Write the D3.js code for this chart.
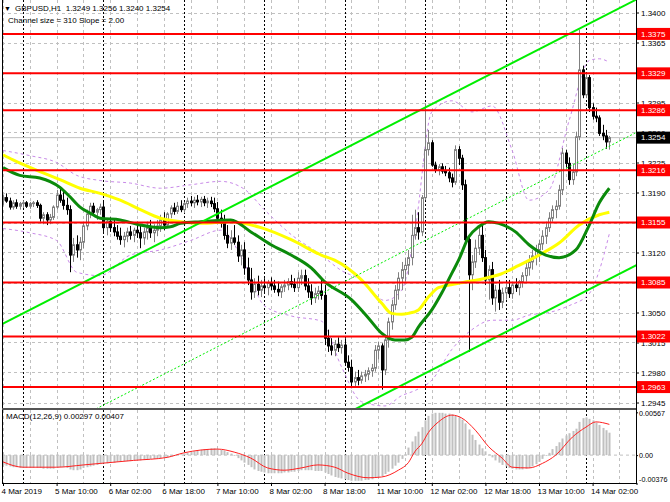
<!DOCTYPE html>
<html><head><meta charset="utf-8">
<script src="https://cdn.jsdelivr.net/npm/d3@7"></script>
<style>
body{margin:0;background:#fff}
svg{display:block}
text{font-family:"Liberation Sans",Arial,sans-serif}
</style>
</head><body><svg id="c" width="670" height="502"></svg>
<script>
// ---------- DATA ----------
const opens=[1.3181,1.3184,1.3180,1.3173,1.3178,1.3174,1.3177,1.3178,1.3174,1.3177,
1.3178,1.3175,1.3160,1.3164,1.3158,1.3161,1.3173,1.3187,1.3181,1.3175,
1.3170,1.3117,1.3129,1.3123,1.3132,1.3151,1.3165,1.3174,1.3167,1.3170,
1.3173,1.3149,1.3156,1.3149,1.3144,1.3139,1.3135,1.3139,1.3144,1.3140,
1.3146,1.3143,1.3137,1.3144,1.3149,1.3143,1.3146,1.3151,1.3158,1.3152,
1.3165,1.3172,1.3168,1.3174,1.3170,1.3177,1.3180,1.3178,1.3181,1.3179,
1.3182,1.3178,1.3180,1.3177,1.3171,1.3160,1.3154,1.3140,1.3131,1.3137,
1.3132,1.3116,1.3123,1.3102,1.3088,1.3074,1.3083,1.3076,1.3081,1.3079,
1.3084,1.3081,1.3077,1.3074,1.3080,1.3082,1.3086,1.3083,1.3079,1.3090,
1.3093,1.3081,1.3074,1.3067,1.3072,1.3075,1.3070,1.3020,1.3011,1.3006,
1.3013,1.3009,1.3012,1.2992,1.2986,1.2969,1.2974,1.2971,1.2976,1.2978,
1.2982,1.2985,1.3006,1.3011,1.2983,1.3018,1.3039,1.3059,1.3076,1.3090,
1.3100,1.3105,1.3114,1.3140,1.3149,1.3144,1.3184,1.3240,1.3248,1.3222,
1.3216,1.3220,1.3215,1.3213,1.3207,1.3202,1.3240,1.3230,1.3199,1.3135,
1.3094,1.3109,1.3125,1.3140,1.3114,1.3088,1.3100,1.3067,1.3076,1.3062,
1.3073,1.3079,1.3072,1.3082,1.3079,1.3086,1.3093,1.3102,1.3109,1.3116,
1.3123,1.3130,1.3139,1.3149,1.3160,1.3170,1.3174,1.3193,1.3236,1.3224,
1.3205,1.3214,1.3255,1.3333,1.3304,1.3324,1.3289,1.3279,1.3277,1.3259,
1.3256,1.3249];
const highs=[1.3187,1.3189,1.3184,1.3181,1.3182,1.3179,1.3181,1.3180,1.3179,1.3180,
1.3181,1.3177,1.3167,1.3167,1.3165,1.3175,1.3193,1.3196,1.3191,1.3184,
1.3175,1.3137,1.3140,1.3138,1.3156,1.3170,1.3178,1.3178,1.3172,1.3177,
1.3179,1.3160,1.3161,1.3158,1.3152,1.3149,1.3144,1.3149,1.3151,1.3149,
1.3156,1.3152,1.3149,1.3156,1.3158,1.3153,1.3158,1.3164,1.3167,1.3167,
1.3175,1.3178,1.3179,1.3181,1.3179,1.3184,1.3186,1.3185,1.3187,1.3185,
1.3186,1.3184,1.3185,1.3184,1.3179,1.3170,1.3164,1.3152,1.3146,1.3152,
1.3140,1.3129,1.3132,1.3114,1.3102,1.3090,1.3093,1.3088,1.3090,1.3088,
1.3091,1.3088,1.3086,1.3083,1.3088,1.3090,1.3094,1.3090,1.3097,1.3100,
1.3100,1.3090,1.3083,1.3079,1.3081,1.3088,1.3082,1.3030,1.3020,1.3018,
1.3021,1.3018,1.3020,1.3000,1.2995,1.2981,1.2983,1.2981,1.2983,1.2986,
1.2990,1.3012,1.3016,1.3014,1.3024,1.3044,1.3065,1.3082,1.3097,1.3109,
1.3114,1.3123,1.3164,1.3170,1.3167,1.3187,1.3294,1.3263,1.3251,1.3226,
1.3223,1.3224,1.3221,1.3219,1.3212,1.3245,1.3244,1.3234,1.3205,1.3140,
1.3117,1.3135,1.3149,1.3152,1.3123,1.3105,1.3109,1.3082,1.3088,1.3079,
1.3084,1.3088,1.3086,1.3090,1.3088,1.3097,1.3109,1.3117,1.3123,1.3129,
1.3135,1.3146,1.3156,1.3167,1.3175,1.3181,1.3199,1.3242,1.3240,1.3231,
1.3222,1.3261,1.3380,1.3338,1.3329,1.3327,1.3294,1.3289,1.3280,1.3269,
1.3263,1.3256];
const lows=[1.3175,1.3178,1.3170,1.3170,1.3171,1.3170,1.3172,1.3172,1.3171,1.3173,
1.3172,1.3156,1.3153,1.3152,1.3153,1.3158,1.3170,1.3178,1.3170,1.3164,
1.3097,1.3109,1.3114,1.3111,1.3125,1.3146,1.3160,1.3164,1.3158,1.3164,
1.3144,1.3140,1.3144,1.3139,1.3135,1.3129,1.3126,1.3132,1.3135,1.3132,
1.3137,1.3125,1.3129,1.3135,1.3137,1.3132,1.3139,1.3144,1.3146,1.3149,
1.3160,1.3164,1.3165,1.3167,1.3166,1.3172,1.3174,1.3172,1.3175,1.3173,
1.3174,1.3172,1.3173,1.3167,1.3156,1.3149,1.3135,1.3125,1.3123,1.3129,
1.3109,1.3105,1.3094,1.3082,1.3065,1.3067,1.3070,1.3068,1.3074,1.3070,
1.3076,1.3073,1.3069,1.3067,1.3074,1.3076,1.3079,1.3074,1.3074,1.3082,
1.3076,1.3067,1.3059,1.3061,1.3065,1.3065,1.3012,1.3004,1.3000,1.2999,
1.3004,1.3002,1.2988,1.2981,1.2962,1.2963,1.2965,1.2967,1.2969,1.2971,
1.2975,1.2981,1.2995,1.2960,1.2977,1.3009,1.3030,1.3053,1.3065,1.3076,
1.3086,1.3094,1.3105,1.3135,1.3135,1.3139,1.3181,1.3233,1.3220,1.3213,
1.3210,1.3212,1.3209,1.3202,1.3196,1.3199,1.3222,1.3193,1.3129,1.3004,
1.3076,1.3102,1.3117,1.3109,1.3082,1.3065,1.3059,1.3051,1.3053,1.3055,
1.3065,1.3067,1.3066,1.3074,1.3070,1.3079,1.3086,1.3093,1.3100,1.3105,
1.3109,1.3123,1.3130,1.3144,1.3156,1.3160,1.3170,1.3187,1.3219,1.3199,
1.3199,1.3209,1.3251,1.3300,1.3300,1.3284,1.3275,1.3272,1.3256,1.3251,
1.3241,1.3240];
const closes=[1.3184,1.3180,1.3173,1.3178,1.3174,1.3177,1.3178,1.3174,1.3177,1.3178,
1.3175,1.3160,1.3164,1.3158,1.3161,1.3173,1.3187,1.3181,1.3175,1.3170,
1.3117,1.3129,1.3123,1.3132,1.3151,1.3165,1.3174,1.3167,1.3170,1.3173,
1.3149,1.3156,1.3149,1.3144,1.3139,1.3135,1.3139,1.3144,1.3140,1.3146,
1.3143,1.3137,1.3144,1.3149,1.3143,1.3146,1.3151,1.3158,1.3152,1.3165,
1.3172,1.3168,1.3174,1.3170,1.3177,1.3180,1.3178,1.3181,1.3179,1.3182,
1.3178,1.3180,1.3177,1.3171,1.3160,1.3154,1.3140,1.3131,1.3137,1.3132,
1.3116,1.3123,1.3102,1.3088,1.3074,1.3083,1.3076,1.3081,1.3079,1.3084,
1.3081,1.3077,1.3074,1.3080,1.3082,1.3086,1.3083,1.3079,1.3090,1.3093,
1.3081,1.3074,1.3067,1.3072,1.3075,1.3070,1.3020,1.3011,1.3006,1.3013,
1.3009,1.3012,1.2992,1.2986,1.2969,1.2974,1.2971,1.2976,1.2978,1.2982,
1.2985,1.3006,1.3011,1.2983,1.3018,1.3039,1.3059,1.3076,1.3090,1.3100,
1.3105,1.3114,1.3140,1.3149,1.3144,1.3184,1.3240,1.3248,1.3222,1.3216,
1.3220,1.3215,1.3213,1.3207,1.3202,1.3240,1.3230,1.3199,1.3135,1.3094,
1.3109,1.3125,1.3140,1.3114,1.3088,1.3100,1.3067,1.3076,1.3062,1.3073,
1.3079,1.3072,1.3082,1.3079,1.3086,1.3093,1.3102,1.3109,1.3116,1.3123,
1.3130,1.3139,1.3149,1.3160,1.3170,1.3174,1.3193,1.3236,1.3224,1.3205,
1.3214,1.3255,1.3333,1.3304,1.3324,1.3289,1.3279,1.3277,1.3259,1.3256,
1.3249,1.3254];

// fast MA (dark green) sampled: bar index / value
const maFastBars=[0,5,11,17,20,23,26,29,35,41,47,50,53,59,68,74,80,86,92,96,104,109,113,117,120,122,124,128,131,134,136,139,142,145,148,153,157,162,166,171,175,178,181];
const maFastVals=[1.3219,1.3210,1.3207,1.3196,1.3185,1.3173,1.3166,1.3160,1.3158,1.3152,1.3149,1.3150,1.3154,1.3156,1.3158,1.3144,1.3129,1.3117,1.3102,1.3086,1.3065,1.3044,1.3026,1.3018,1.3018,1.3021,1.3033,1.3053,1.3073,1.3096,1.3111,1.3138,1.3150,1.3156,1.3154,1.3144,1.3129,1.3117,1.3114,1.3123,1.3152,1.3178,1.3195];
// slow MA (yellow)
const maSlowBars=[0,3,12,17,23,29,35,41,47,53,59,68,77,86,95,99,107,113,116,119,121,124,127,130,136,144,148,154,160,166,172,178,181];
const maSlowVals=[1.3234,1.3228,1.3213,1.3205,1.3195,1.3189,1.3181,1.3170,1.3160,1.3156,1.3154,1.3156,1.3149,1.3135,1.3117,1.3111,1.3088,1.3061,1.3049,1.3048,1.3049,1.3053,1.3068,1.3079,1.3084,1.3090,1.3094,1.3105,1.3117,1.3131,1.3152,1.3164,1.3167];
// envelope bands (violet dashed)
const bandBars=[0,8,16,22,29,38,47,56,65,72,78,86,95,101,107,114,119,123,128,134,140,146,152,157,163,169,175,178,181];
const bandUpper=[1.3239,1.3233,1.3225,1.3210,1.3204,1.3201,1.3195,1.3199,1.3203,1.3194,1.3170,1.3141,1.3117,1.3099,1.3088,1.3064,1.3076,1.3146,1.3284,1.3297,1.3284,1.3291,1.3239,1.3181,1.3193,1.3274,1.3344,1.3346,1.3342];
const bandLower=[1.3148,1.3143,1.3134,1.3097,1.3093,1.3117,1.3123,1.3134,1.3146,1.3108,1.3058,1.3046,1.3040,1.2987,1.2946,1.2941,1.2953,1.2959,1.2971,1.3007,1.3030,1.3041,1.3041,1.3047,1.3050,1.3058,1.3072,1.3099,1.3142];

// MACD histogram (per bar) and signal (sampled)
const macdMain=[-0.0013,-0.0014,-0.0015,-0.0016,-0.0016,-0.0017,-0.0017,-0.0017,-0.0017,-0.0017,
-0.0017,-0.0017,-0.0018,-0.0018,-0.0018,-0.0018,-0.0017,-0.0016,-0.0016,-0.0017,
-0.0019,-0.0020,-0.0020,-0.0019,-0.0017,-0.0016,-0.0015,-0.0014,-0.0013,-0.0012,
-0.0011,-0.0011,-0.0010,-0.0010,-0.0009,-0.0009,-0.0008,-0.0008,-0.0008,-0.0007,
-0.0007,-0.0007,-0.0006,-0.0006,-0.0005,-0.0005,-0.0004,-0.0004,-0.0003,-0.0003,
-0.0002,-0.0001,0.0000,0.0001,0.0002,0.0003,0.0004,0.0005,0.0006,0.0007,
0.0008,0.0008,0.0009,0.0009,0.0008,0.0007,0.0006,0.0004,0.0002,-0.0001,
-0.0004,-0.0007,-0.0010,-0.0013,-0.0016,-0.0019,-0.0021,-0.0022,-0.0023,-0.0024,
-0.0024,-0.0024,-0.0024,-0.0024,-0.0023,-0.0023,-0.0022,-0.0022,-0.0021,-0.0020,
-0.0020,-0.0020,-0.0020,-0.0021,-0.0021,-0.0021,-0.0023,-0.0025,-0.0027,-0.0029,
-0.0030,-0.0031,-0.0032,-0.0033,-0.0034,-0.0034,-0.0034,-0.0034,-0.0033,-0.0033,
-0.0032,-0.0030,-0.0029,-0.0028,-0.0025,-0.0022,-0.0018,-0.0014,-0.0010,-0.0005,
0.0001,0.0010,0.0018,0.0025,0.0031,0.0037,0.0046,0.0052,0.0055,0.0056,
0.0056,0.0056,0.0055,0.0055,0.0054,0.0052,0.0050,0.0047,0.0042,0.0034,
0.0027,0.0020,0.0014,0.0009,0.0005,0.0001,-0.0003,-0.0007,-0.0010,-0.0013,
-0.0015,-0.0017,-0.0018,-0.0019,-0.0019,-0.0019,-0.0018,-0.0017,-0.0015,-0.0012,
-0.0009,-0.0005,-0.0001,0.0003,0.0008,0.0012,0.0017,0.0022,0.0026,0.0029,
0.0032,0.0035,0.0044,0.0049,0.0050,0.0048,0.0046,0.0043,0.0040,0.0036,
0.0033,0.00297];
const signalBars=[0,6,16,24,29,39,49,54,64,69,74,79,84,89,94,99,103,109,113,118,121,123,125,127,130,134,137,141,145,149,152,157,161,165,170,174,177,181];
const signalVals=[-0.0009,-0.0016,-0.0016,-0.0013,-0.0011,-0.0007,-0.0003,0.0003,0.0008,0.0004,-0.0004,-0.0017,-0.0020,-0.0017,-0.0013,-0.0016,-0.0024,-0.0030,-0.0029,-0.0020,-0.0010,0.0005,0.0015,0.0030,0.0044,0.0053,0.0049,0.0033,0.0011,-0.0004,-0.0016,-0.0017,-0.0011,0.0000,0.0024,0.0037,0.0044,0.00407];

// levels, channel, ticks
const levels=[1.3375,1.3329,1.3286,1.3216,1.3155,1.3085,1.3022,1.2963];
const channelBars=[-2,192];
const channelUpper=[1.3033,1.3421];
const channelSize=0.0310;
const priceTicks=[1.3400,1.3365,1.3330,1.3295,1.3260,1.3225,1.3190,1.3155,1.3120,1.3085,1.3050,1.3015,1.2980,1.2945];
const hiddenTickLabels=[1.3330];
const macdTicks=[0.00567,0,-0.00376];
const macdTickLabels=["0.00567","0.00","-0.00376"];
const timeTickBars=[0,16,32,48,64,80,96,112,128,144,160,176];
const timeTickLabels=["4 Mar 2019","5 Mar 10:00","6 Mar 02:00","6 Mar 18:00","7 Mar 10:00","8 Mar 02:00","8 Mar 18:00","11 Mar 10:00","12 Mar 02:00","12 Mar 18:00","13 Mar 10:00","14 Mar 02:00"];
const gridBars=d3.range(0,190,8);
const daySepBars=[6,30,54,78,102,126,150,174];
const lastPrice=1.3254;
const headerText="GBPUSD,H1  1.3249 1.3256 1.3240 1.3254";
const channelText="Channel size = 310 Slope = 2.00";
const macdText="MACD(12,26,9) 0.00297 0.00407";

// ---------- LAYOUT ----------
const W=670,H=502,L=2,R=636,mT=0,mB=408,dT=410,dB=483;
const svg=d3.select("#c");
const x=d3.scaleLinear().domain([0,176]).range([3,592.6]);
const y=d3.scaleLinear().domain([1.2945,1.3400]).range([402.5,12.5]);
const ym=d3.scaleLinear().domain([-0.00376,0.00567]).range([483.5,412.3]);

const defs=svg.append("defs");
defs.append("clipPath").attr("id","cm").append("rect").attr("x",L).attr("y",mT).attr("width",R-L).attr("height",mB-mT);
defs.append("clipPath").attr("id","cd").append("rect").attr("x",L).attr("y",dT).attr("width",R-L).attr("height",dB-dT);

const gM=svg.append("g").attr("clip-path","url(#cm)");
const gD=svg.append("g").attr("clip-path","url(#cd)");

// grid
gM.selectAll(".hg").data(priceTicks).join("line").attr("x1",L).attr("x2",R)
 .attr("y1",d=>Math.round(y(d))+0.5).attr("y2",d=>Math.round(y(d))+0.5)
 .attr("stroke","#c0c0c0").attr("stroke-dasharray","3,3");
[gM,gD].forEach((g,k)=>{
 const t=k?dT:mT,b=k?dB:mB;
 g.selectAll(".vg").data(gridBars).join("line")
  .attr("x1",d=>Math.round(x(d))+0.5).attr("x2",d=>Math.round(x(d))+0.5).attr("y1",t).attr("y2",b)
  .attr("stroke","#c0c0c0").attr("stroke-dasharray","3,3");
 g.selectAll(".ds").data(daySepBars).join("line")
  .attr("x1",d=>Math.round(x(d))+0.5).attr("x2",d=>Math.round(x(d))+0.5).attr("y1",t).attr("y2",b)
  .attr("stroke","#000").attr("stroke-dasharray","2,2");
});

// current price line
gM.append("line").attr("x1",L).attr("x2",R).attr("y1",y(lastPrice)).attr("y2",y(lastPrice))
 .attr("stroke","#c0c0c0").attr("stroke-width",1);

// bands
const bandLine=(vals)=>d3.line().x((d,i)=>x(bandBars[i])).y(d=>y(d)).curve(d3.curveMonotoneX)(vals);
gM.append("path").attr("d",bandLine(bandUpper)).attr("fill","none").attr("stroke","#c88ae8").attr("stroke-dasharray","3,3");
gM.append("path").attr("d",bandLine(bandLower)).attr("fill","none").attr("stroke","#c88ae8").attr("stroke-dasharray","3,3");

// candles
const bars=d3.range(opens.length);
const cg=gM.append("g");
bars.forEach(i=>{
 const bull=closes[i]>=opens[i];
 const cx=Math.round(x(i))+0.5;
 const col=bull?"#808080":"#000";
 cg.append("line").attr("x1",cx).attr("x2",cx).attr("y1",y(highs[i])).attr("y2",y(lows[i])).attr("stroke",col);
 const top=y(Math.max(opens[i],closes[i])),bot=y(Math.min(opens[i],closes[i]));
 cg.append("rect").attr("x",cx-1).attr("width",2).attr("y",top).attr("height",Math.max(0.5,bot-top))
  .attr("fill",bull?"#fff":"#000").attr("stroke",col).attr("stroke-width",1);
});

// moving averages
const maLine=(bs,vs)=>d3.line().x((d,i)=>x(bs[i])).y(d=>y(d)).curve(d3.curveMonotoneX)(vs);
gM.append("path").attr("d",maLine(maSlowBars,maSlowVals)).attr("fill","none").attr("stroke","#ffff00").attr("stroke-width",3);
gM.append("path").attr("d",maLine(maFastBars,maFastVals)).attr("fill","none").attr("stroke","#0b8a0b").attr("stroke-width",3);

// channel
const chLine=(off)=>d3.line().x((d,i)=>x(channelBars[i])).y(d=>y(d-off))(channelUpper);
gM.append("path").attr("d",chLine(0)).attr("stroke","#00ee00").attr("stroke-width",2).attr("fill","none");
gM.append("path").attr("d",chLine(channelSize)).attr("stroke","#00ee00").attr("stroke-width",2).attr("fill","none");
gM.append("path").attr("d",chLine(channelSize/2)).attr("stroke","#00ee00").attr("stroke-width",1).attr("stroke-dasharray","2,2").attr("fill","none");

// levels
gM.selectAll(".lv").data(levels).join("line").attr("x1",L).attr("x2",R)
 .attr("y1",d=>y(d)).attr("y2",d=>y(d)).attr("stroke","#ff0000").attr("stroke-width",2);

// MACD
gD.append("line").attr("x1",L).attr("x2",R).attr("y1",ym(0)).attr("y2",ym(0)).attr("stroke","#c0c0c0").attr("stroke-dasharray","3,3");
gD.selectAll(".hb").data(macdMain).join("rect")
 .attr("x",(d,i)=>Math.round(x(i))-0.5).attr("width",2)
 .attr("y",d=>Math.min(ym(d),ym(0))).attr("height",d=>Math.abs(ym(d)-ym(0)))
 .attr("fill","#c0c0c0");
gD.append("path").attr("d",d3.line().x((d,i)=>x(signalBars[i])).y(d=>ym(d)).curve(d3.curveMonotoneX)(signalVals))
 .attr("fill","none").attr("stroke","#ff2020").attr("stroke-width",1);

// frames
svg.append("line").attr("x1",L+0.5).attr("x2",L+0.5).attr("y1",0).attr("y2",dB).attr("stroke","#000");
svg.append("line").attr("x1",R+0.5).attr("x2",R+0.5).attr("y1",0).attr("y2",dB).attr("stroke","#000");
svg.append("line").attr("x1",L).attr("x2",R).attr("y1",mB+0.5).attr("y2",mB+0.5).attr("stroke","#555");
svg.append("line").attr("x1",L).attr("x2",R).attr("y1",dT-0.5).attr("y2",dT-0.5).attr("stroke","#555");
svg.append("line").attr("x1",L).attr("x2",R+1).attr("y1",dB+0.5).attr("y2",dB+0.5).attr("stroke","#000");

// axes
const fs="8px";
const ay=svg.append("g").attr("transform",`translate(${R},0)`)
 .call(d3.axisRight(y).tickValues(priceTicks)
   .tickFormat(d=>hiddenTickLabels.includes(d)?"":d3.format(".4f")(d)).tickSize(3).tickPadding(2));
ay.select(".domain").remove();
ay.selectAll("text").attr("font-size",fs).attr("fill","#000").attr("font-family","Liberation Sans, Arial, sans-serif");
const ad=svg.append("g").attr("transform",`translate(${R},0)`)
 .call(d3.axisRight(ym).tickValues(macdTicks).tickFormat((d,i)=>macdTickLabels[i]).tickSize(2).tickPadding(1));
ad.select(".domain").remove();
ad.selectAll("text").attr("font-size","7.2px").attr("fill","#000").attr("font-family","Liberation Sans, Arial, sans-serif");
ad.selectAll(".tick").filter((d,i)=>i===2).select("text").attr("dy","-0.3em");
ad.selectAll(".tick").filter((d,i)=>i===0).select("text").attr("dy","0.45em");
const ax=svg.append("g").attr("transform",`translate(0,${dB})`)
 .call(d3.axisBottom(x).tickValues(timeTickBars).tickFormat((d,i)=>timeTickLabels[i]).tickSize(3).tickPadding(2));
ax.select(".domain").remove();
ax.selectAll("text").attr("font-size",fs).attr("fill","#000").attr("text-anchor","start").attr("dx","-2")
 .attr("font-family","Liberation Sans, Arial, sans-serif");

// level labels
const lbl=svg.append("g");
levels.forEach(v=>{
 lbl.append("rect").attr("x",R+1).attr("width",W-R-1).attr("y",y(v)-6).attr("height",12).attr("fill","#ff0000");
 lbl.append("text").attr("x",R+5).attr("y",y(v)).attr("dy","0.35em").attr("font-size",fs).attr("fill","#fff").text(d3.format(".4f")(v));
});
lbl.append("rect").attr("x",R+1).attr("width",W-R-1).attr("y",y(lastPrice)-6).attr("height",12).attr("fill","#000");
lbl.append("text").attr("x",R+5).attr("y",y(lastPrice)).attr("dy","0.35em").attr("font-size",fs).attr("fill","#fff").text(d3.format(".4f")(lastPrice));

// texts
svg.append("text").attr("x",4).attr("y",11).attr("font-size","7px").text("▼");
svg.append("text").attr("x",15).attr("y",11).attr("font-size",fs).attr("xml:space","preserve").text(headerText);
svg.append("text").attr("x",8).attr("y",23).attr("font-size",fs).text(channelText);
svg.append("text").attr("x",6).attr("y",419).attr("font-size",fs).text(macdText);
</script>
</body></html>
